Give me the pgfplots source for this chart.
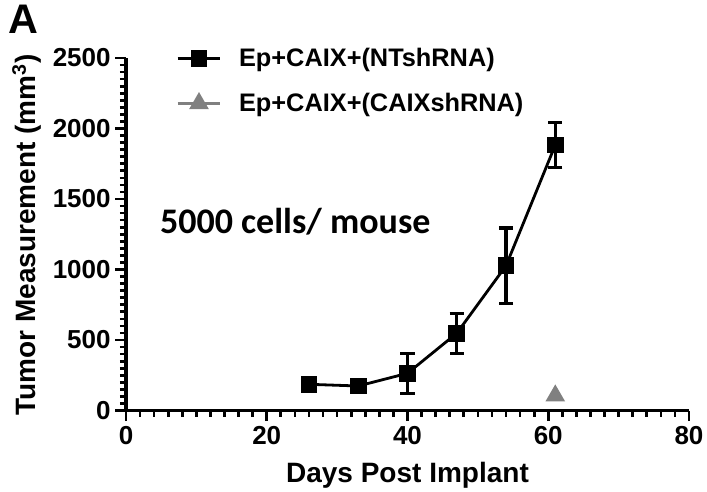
\documentclass[border=0pt]{standalone}
\usepackage{fontspec}
\setmainfont{Liberation Sans}
\newfontfamily\carlito{Carlito}
\usepackage{pgfplots}
\pgfplotsset{compat=1.18}
\definecolor{trigray}{RGB}{128,128,128}

\begin{document}
\begin{tikzpicture}
\begin{axis}[
  scale only axis,
  width=422.25pt, height=264.4pt,
  xmin=0, xmax=80, ymin=0, ymax=2500,
  axis x line*=bottom, axis y line*=left,
  axis line style={line width=2.4pt, -},
  xtick={0,20,...,80}, ytick={0,500,...,2500},
  minor x tick num=9, minor y tick num=9,
  tick align=outside,
  major tick length=8pt, minor tick length=4.5pt,
  every tick/.style={black, line width=2pt},
  ticklabel style={font=\bfseries\fontsize{19.5}{19.5}\selectfont},
  /pgf/number format/assume math mode=true,
  /pgf/number format/1000 sep={},
  xlabel={Days Post Implant},
  ylabel={Tumor Measurement (mm\textsuperscript{3})},
  every axis x label/.style={at={(rel axis cs:0.5,-0.184)}, anchor=center,
    font=\bfseries\fontsize{21}{21}\selectfont},
  every axis y label/.style={at={(rel axis cs:-0.176,0.498)}, anchor=center, rotate=90,
    font=\bfseries\fontsize{21}{21}\selectfont},
  clip=false,
  legend cell align=left,
  legend style={draw=none, fill=none, at={(rel axis cs:0.0817,1.04)}, anchor=north west,
    font=\bfseries\fontsize{19}{19}\selectfont, row sep=16.5pt, column sep=12pt,
    nodes={inner sep=1pt}},
  legend image code/.code={\draw[mark repeat=2,mark phase=2,#1] plot coordinates {(0pt,0pt) (16pt,0pt) (32pt,0pt)};},
]
% NTshRNA group: mean +- error
\addplot[black, line width=2.1pt, mark=square*, mark size=5.25pt, mark options={solid},
  error bars/.cd, y dir=both, y explicit,
  error bar style={line width=2.5pt},
  error mark options={rotate=90, mark size=5.4pt, line width=2.5pt}]
  coordinates {
    (26,186) +- (0,0)
    (33,174) +- (0,0)
    (40,264) +- (0,142)
    (47,548) +- (0,142)
    (54,1027) +- (0,268)
    (61,1883) +- (0,160)
  };
\addlegendentry{Ep+CAIX+(NTshRNA)}
% CAIXshRNA group: single point
\addplot[trigray, line width=2pt, mark=triangle*, mark size=6.5pt]
  coordinates {(61,105)};
\addlegendentry{Ep+CAIX+(CAIXshRNA)}

\node[anchor=west, inner sep=0pt, font=\carlito\bfseries\fontsize{27}{27}\selectfont]
  at (rel axis cs:0.06,0.535) {5000 cells/ mouse};
\node[anchor=north west, inner sep=0pt, font=\bfseries\fontsize{31}{31}\selectfont]
  at (rel axis cs:-0.21,1.15) {A};
\end{axis}
\pgfresetboundingbox
\path (current axis.south west) ++(-94.5pt,-61.1pt) rectangle ++(530.25pt,369pt);
\end{tikzpicture}
\end{document}
